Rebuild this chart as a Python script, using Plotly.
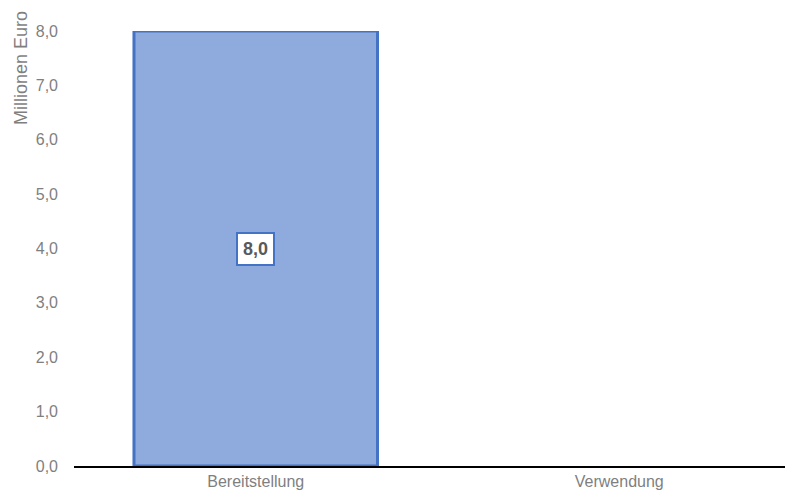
import plotly.graph_objects as go

categories = ["Bereitstellung", "Verwendung"]
values = [8.0, None]
y_ticks = [0, 1, 2, 3, 4, 5, 6, 7, 8]

GRAY = "#7F7F7F"
DARK = "#595959"
FONT = "Liberation Sans, Arial, sans-serif"

fig = go.Figure()
fig.add_trace(go.Bar(
    x=categories, y=values,
    marker=dict(color="#8FAADC", line=dict(color="#4472C4", width=3)),
    width=0.67,
    hoverinfo="skip",
))

# value labels in a boxed annotation at the middle of each bar
for cat, v in zip(categories, values):
    if v is None:
        continue
    fig.add_annotation(
        x=cat, y=v / 2, text=f"<b>{v:.1f}".replace(".", ",") + "</b>",
        showarrow=False, font=dict(size=18, color=DARK, family=FONT),
        bgcolor="white", bordercolor="#4472C4", borderwidth=2, borderpad=5,
    )

fig.add_annotation(
    text="Millionen Euro", textangle=-90, showarrow=False,
    xref="paper", yref="paper", x=0, xanchor="center", xshift=-53,
    y=0.915, yanchor="middle",
    font=dict(size=18, color=GRAY, family=FONT),
)

# page body has an 8px margin, margins below compensate for it
fig.update_layout(
    width=793, height=497,
    margin=dict(l=66, r=0, t=23, b=39),
    paper_bgcolor="white", plot_bgcolor="white",
    separators=",.",
    showlegend=False,
    font=dict(family=FONT, size=16, color=GRAY),
    xaxis=dict(showline=True, linecolor="black", linewidth=1.5, ticks="",
               tickfont=dict(size=16, color=GRAY)),
    yaxis=dict(range=[0, 8], tickvals=y_ticks, tickformat=".1f", showgrid=False,
               zeroline=False, showline=False, ticks="", ticklabelstandoff=15,
               tickfont=dict(size=16, color=GRAY)),
)

fig.write_html("out.html")
